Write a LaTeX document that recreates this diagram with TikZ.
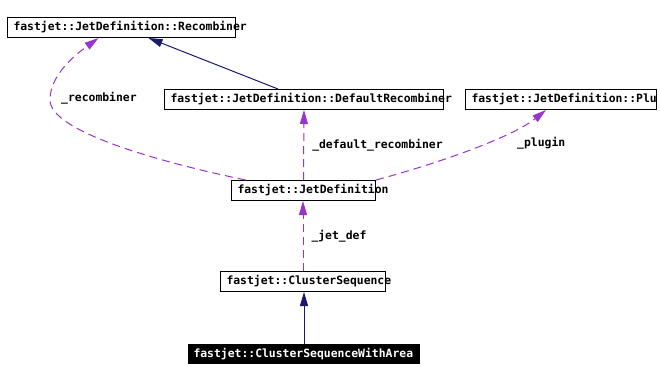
\documentclass[tikz,border=0pt]{standalone}
\usepackage{fontspec}
\setmonofont{DejaVu Sans Mono}
\usepackage{xcolor}
\usetikzlibrary{arrows.meta, positioning}
\definecolor{clrInherit}{HTML}{191970}
\definecolor{clrUses}{HTML}{9A32CD}
\newcommand{\clsname}[2]{\makebox[#1][l]{#2}}

\begin{document}
\begin{tikzpicture}[
    x=1pt, y=-1pt,
    cls/.style={rectangle, draw=black, fill=white, minimum height=20pt, inner xsep=6pt, inner ysep=0pt, anchor=north west, font=\fontsize{11.4}{13}\selectfont\ttfamily\bfseries, line width=1pt},
    clsfocus/.style={cls, fill=black, text=white, minimum height=19pt, inner xsep=5pt},
    inherit/.style={-{Triangle[length=14pt, width=8pt]}, line width=1pt, clrInherit},
    uses/.style={-{Triangle[length=14pt, width=8pt]}, line width=1pt, clrUses, dash pattern=on 8pt off 5pt},
    lbl/.style={font=\fontsize{11.4}{13}\selectfont\ttfamily\bfseries, text=black, inner sep=0pt},
]
\useasboundingbox (0,0) rectangle (660,380);

% === Classes ===
\node[cls] (recomb) at (7, 17) {\clsname{216pt}{fastjet::JetDefinition::Recombiner}};
\node[cls] (defrec) at (164, 89) {\clsname{267pt}{fastjet::JetDefinition::DefaultRecombiner}};
\node[cls] (plugin) at (465, 89) {\clsname{179pt}{fastjet::JetDefinition::Plu}};
\node[cls] (jetdef) at (231, 180) {\clsname{132pt}{fastjet::JetDefinition}};
\node[cls] (cseq) at (220, 271) {\clsname{153pt}{fastjet::ClusterSequence}};
\node[clsfocus] (cswa) at (188, 344) {\clsname{221pt}{fastjet::ClusterSequenceWithArea}};

% === Inheritance ===
\draw[inherit] (cswa.north) -- (cswa.north |- cseq.south);
\draw[inherit] ([xshift=-26]defrec.north) -- ([xshift=27]recomb.south);

% === Members ===
\draw[uses] (cseq.north) -- node[lbl, right=8pt] {\_jet\_def} (cseq.north |- jetdef.south);
\draw[uses] (jetdef.north) -- node[lbl, right=8pt] {\_default\_recombiner} (defrec.south);
\draw[uses] ([xshift=-58]jetdef.north) .. controls (150,160) and (50,130) .. (50,100)
    .. controls (50,75) and (75,55) .. ([xshift=-23]recomb.south);
\draw[uses] (jetdef.north east) .. controls (450,160) and (515,135) .. ([xshift=-15]plugin.south);

\node[lbl, anchor=west] (lblrecomb) at (61, 98) {\_recombiner};
\node[lbl, anchor=west] (lblplugin) at (517, 143) {\_plugin};

\end{tikzpicture}
\end{document}
